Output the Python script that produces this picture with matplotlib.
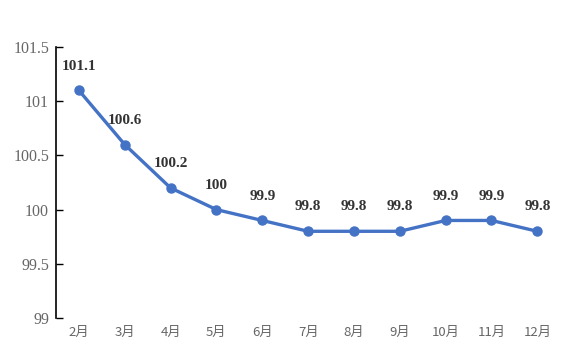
import matplotlib
matplotlib.use('Agg')
import matplotlib.pyplot as plt

months = ['2月', '3月', '4月', '5月', '6月', '7月', '8月', '9月', '10月', '11月', '12月']
values = [101.1, 100.6, 100.2, 100, 99.9, 99.8, 99.8, 99.8, 99.9, 99.9, 99.8]
labels = ['101.1', '100.6', '100.2', '100', '99.9', '99.8', '99.8', '99.8', '99.9', '99.9', '99.8']
yticks = [99, 99.5, 100, 100.5, 101, 101.5]
ytick_labels = ['99', '99.5', '100', '100.5', '101', '101.5']


def main():
    fig = plt.figure(figsize=(5.77, 3.51), dpi=100)
    ax = fig.add_axes([0.097, 0.094, 0.874, 0.772])
    x = list(range(len(months)))

    ax.plot(x, values, '-o', color='#4472C4', lw=2.4, ms=6.5)

    # data labels above each point
    for xi, v, lab in zip(x, values, labels):
        ax.annotate(lab, (xi, v), xytext=(0, 17.5), textcoords='offset points',
                    ha='center', va='center', fontsize=11, fontweight='bold',
                    family='Liberation Serif', color='#333333')

    ax.set_xlim(-0.5, len(months) - 0.5)
    ax.set_ylim(99, 101.5)
    ax.set_yticks(yticks)
    ax.set_yticklabels(ytick_labels, family='Liberation Serif', fontsize=11.5, color='#666666')
    ax.set_xticks(x)
    ax.set_xticklabels(months, family=['Noto Sans CJK SC', 'DejaVu Sans'], fontsize=9.5, color='#666666')

    for s in ['top', 'right', 'bottom']:
        ax.spines[s].set_visible(False)
    ax.spines['left'].set_linewidth(1.2)
    ax.tick_params(axis='y', direction='in', length=5, width=1, pad=5)
    ax.tick_params(axis='x', length=0, pad=6)

    fig.savefig('out.png', dpi=100)
    plt.close(fig)


if __name__ == '__main__':
    main()
